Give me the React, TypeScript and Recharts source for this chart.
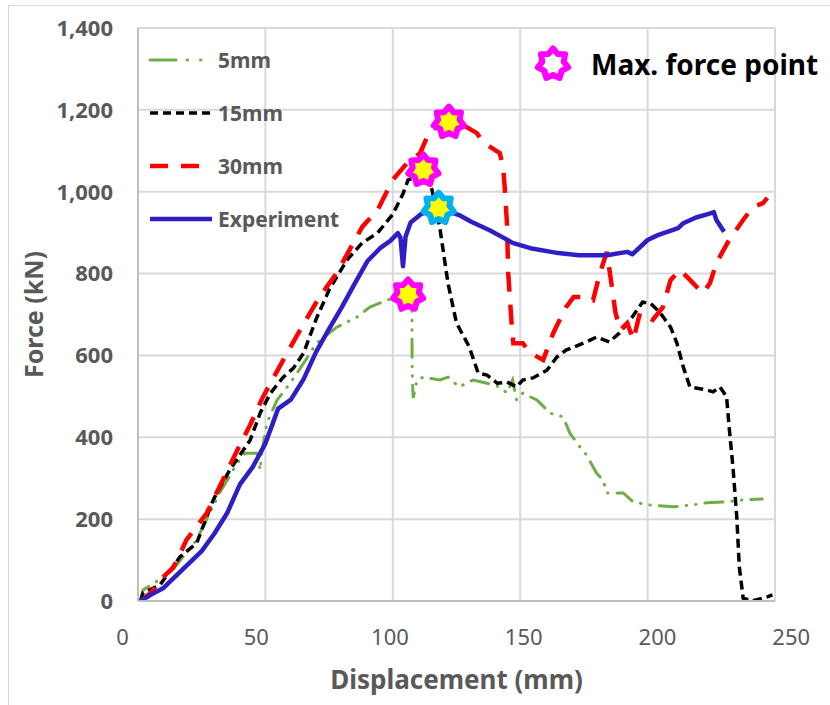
import { ComposedChart, Line, Scatter, XAxis, YAxis, CartesianGrid } from "recharts";

// Force-displacement curves (mm, kN)
const mesh5mm = [
  { x: 1, y: 0 }, { x: 2, y: 27 }, { x: 12.5, y: 68 }, { x: 23, y: 149 }, { x: 32, y: 264 },
  { x: 39, y: 337 }, { x: 42, y: 361 }, { x: 46.7, y: 361 }, { x: 48, y: 320 }, { x: 48.5, y: 360 },
  { x: 50.6, y: 435 }, { x: 54.6, y: 491 }, { x: 59.7, y: 532 }, { x: 65, y: 581 }, { x: 70, y: 630 },
  { x: 78, y: 669 }, { x: 86, y: 694 }, { x: 91, y: 718 }, { x: 97.7, y: 735 }, { x: 102, y: 742 },
  { x: 106, y: 748 }, { x: 107.5, y: 720 }, { x: 107.6, y: 557 }, { x: 108, y: 496 }, { x: 109.5, y: 540 },
  { x: 112, y: 547 }, { x: 118.5, y: 540 }, { x: 121.7, y: 547 }, { x: 126, y: 523 }, { x: 131.5, y: 540 },
  { x: 137, y: 532 }, { x: 142, y: 523 }, { x: 144.8, y: 508 }, { x: 147, y: 540 }, { x: 148.6, y: 491 },
  { x: 151, y: 508 }, { x: 156.6, y: 491 }, { x: 161.7, y: 459 }, { x: 166.8, y: 450 }, { x: 169.5, y: 410 },
  { x: 173.5, y: 376 }, { x: 176, y: 357 }, { x: 180, y: 312 }, { x: 182.5, y: 296 }, { x: 184, y: 264 },
  { x: 190.4, y: 264 }, { x: 194.4, y: 242 }, { x: 200, y: 235 }, { x: 210, y: 230 }, { x: 218, y: 235 },
  { x: 223, y: 240 }, { x: 231, y: 242 }, { x: 237.5, y: 247 }, { x: 245, y: 249 },
];

const mesh15mm = [
  { x: 1, y: 0 }, { x: 2, y: 20 }, { x: 8.6, y: 39 }, { x: 16.5, y: 108 }, { x: 23, y: 141 },
  { x: 29.5, y: 247 }, { x: 36, y: 320 }, { x: 44, y: 393 }, { x: 48, y: 460 }, { x: 52, y: 508 },
  { x: 57, y: 547 }, { x: 61, y: 569 }, { x: 65, y: 606 }, { x: 70, y: 690 }, { x: 75, y: 760 },
  { x: 82, y: 833 }, { x: 88, y: 875 }, { x: 94, y: 899 }, { x: 100, y: 945 }, { x: 104, y: 995 },
  { x: 106, y: 1029 }, { x: 108, y: 1033 }, { x: 112, y: 1050 }, { x: 115.4, y: 1004 }, { x: 118.5, y: 910 },
  { x: 121.7, y: 775 }, { x: 125, y: 679 }, { x: 130, y: 621 }, { x: 133.5, y: 557 }, { x: 137, y: 552 },
  { x: 141, y: 532 }, { x: 144.8, y: 535 }, { x: 148.6, y: 523 }, { x: 151, y: 540 }, { x: 155, y: 545 },
  { x: 160.5, y: 564 }, { x: 164.4, y: 596 }, { x: 168, y: 613 }, { x: 176, y: 633 }, { x: 180, y: 645 },
  { x: 185, y: 633 }, { x: 189, y: 655 }, { x: 194, y: 694 }, { x: 198, y: 730 }, { x: 201, y: 728 },
  { x: 205, y: 704 }, { x: 209, y: 669 }, { x: 211.5, y: 630 }, { x: 214, y: 572 }, { x: 216.6, y: 523 },
  { x: 223, y: 516 }, { x: 225.7, y: 511 }, { x: 228.4, y: 523 }, { x: 231, y: 499 }, { x: 232, y: 425 },
  { x: 233.5, y: 327 }, { x: 235, y: 205 }, { x: 236, y: 83 }, { x: 237.5, y: 7 }, { x: 241, y: 0 },
  { x: 247, y: 10 }, { x: 249, y: 15 },
];

const mesh30mm = [
  { x: 1, y: 0 }, { x: 5, y: 20 }, { x: 10, y: 59 }, { x: 14, y: 83 }, { x: 19, y: 149 },
  { x: 27, y: 215 }, { x: 32, y: 279 }, { x: 39, y: 369 }, { x: 44, y: 430 }, { x: 49, y: 498 },
  { x: 58.5, y: 606 }, { x: 63.6, y: 662 }, { x: 70, y: 730 }, { x: 74, y: 767 }, { x: 78, y: 801 },
  { x: 83, y: 858 }, { x: 88, y: 914 }, { x: 94, y: 955 }, { x: 100, y: 1029 }, { x: 105.6, y: 1070 },
  { x: 110.7, y: 1094 }, { x: 114.6, y: 1150 }, { x: 122, y: 1172 }, { x: 127, y: 1165 }, { x: 133, y: 1143 },
  { x: 135.4, y: 1121 }, { x: 142, y: 1094 }, { x: 143.3, y: 1060 }, { x: 144, y: 1004 }, { x: 144.8, y: 923 },
  { x: 145.3, y: 801 }, { x: 146.8, y: 662 }, { x: 147.3, y: 630 }, { x: 151, y: 630 }, { x: 154, y: 606 },
  { x: 159, y: 589 }, { x: 163, y: 655 }, { x: 168, y: 718 }, { x: 171, y: 743 }, { x: 175, y: 743 },
  { x: 178.6, y: 735 }, { x: 181.3, y: 801 }, { x: 184, y: 853 }, { x: 186, y: 767 }, { x: 187.4, y: 704 },
  { x: 189.3, y: 662 }, { x: 192, y: 679 }, { x: 194.4, y: 638 }, { x: 197, y: 704 }, { x: 202, y: 687 },
  { x: 206, y: 718 }, { x: 209, y: 784 }, { x: 212.7, y: 809 }, { x: 216.7, y: 784 }, { x: 221.7, y: 752 },
  { x: 224.5, y: 777 }, { x: 227, y: 826 }, { x: 232, y: 882 }, { x: 237.5, y: 931 }, { x: 241.4, y: 963 },
  { x: 245.3, y: 972 }, { x: 247, y: 985 },
];

const experiment = [
  { x: 1, y: 0 }, { x: 5, y: 15 }, { x: 10, y: 32 }, { x: 15, y: 62 }, { x: 20, y: 92 },
  { x: 25, y: 122 }, { x: 30, y: 165 }, { x: 35, y: 215 }, { x: 40, y: 285 }, { x: 45, y: 327 },
  { x: 50, y: 385 }, { x: 55, y: 470 }, { x: 60, y: 492 }, { x: 65, y: 542 }, { x: 70, y: 610 },
  { x: 75, y: 665 }, { x: 80, y: 718 }, { x: 85, y: 775 }, { x: 90, y: 830 }, { x: 95, y: 862 },
  { x: 99, y: 880 }, { x: 102, y: 899 }, { x: 103, y: 888 }, { x: 104, y: 818 }, { x: 105, y: 890 },
  { x: 107, y: 925 }, { x: 111, y: 945 }, { x: 118, y: 960 }, { x: 126, y: 943 }, { x: 131, y: 926 },
  { x: 138, y: 906 }, { x: 143, y: 889 }, { x: 147, y: 875 }, { x: 154, y: 862 }, { x: 165, y: 850 },
  { x: 173, y: 845 }, { x: 184, y: 845 }, { x: 192, y: 853 }, { x: 194, y: 847 }, { x: 200, y: 882 },
  { x: 204, y: 894 }, { x: 212, y: 911 }, { x: 214, y: 923 }, { x: 219, y: 937 }, { x: 224, y: 946 },
  { x: 226, y: 950 }, { x: 227, y: 931 }, { x: 230, y: 902 },
];

// max force points
const simMaxPoints = [
  { x: 122, y: 1170 },
  { x: 112, y: 1053 },
  { x: 106, y: 748 },
];
const expMaxPoints = [{ x: 118, y: 960 }];

const xTicks = [0, 50, 100, 150, 200, 250];
const yTicks = [0, 200, 400, 600, 800, 1000, 1200, 1400];

const legendNames = ["5mm", "15mm", "30mm", "Experiment"];
const legendStyles = [
  { stroke: "#70ad47", width: 3, dash: "26 11 0.5 13 0.5 12", cap: "round" as const },
  { stroke: "#000000", width: 3.5, dash: "8 5", cap: "butt" as const },
  { stroke: "#ff0000", width: 4.5, dash: "18 13", cap: "butt" as const },
  { stroke: "#2d1fc5", width: 4.5, dash: undefined, cap: "butt" as const },
];

const FONT = '"Noto Sans", sans-serif';
const GREY = "#595959";

const starPoints = (cx: number, cy: number, outer: number, inner: number, n = 7) => {
  const pts: string[] = [];
  for (let i = 0; i < n * 2; i++) {
    const r = i % 2 === 0 ? outer : inner;
    const a = -Math.PI / 2 + (i * Math.PI) / n;
    pts.push(`${(cx + r * Math.cos(a)).toFixed(1)},${(cy + r * Math.sin(a)).toFixed(1)}`);
  }
  return pts.join(" ");
};

const Star = ({ cx, cy, ring, fill }: { cx: number; cy: number; ring: string; fill: string }) => (
  <polygon
    points={starPoints(cx, cy, 15.5, 11)}
    fill={fill}
    stroke={ring}
    strokeWidth={6}
    strokeLinejoin="round"
  />
);

// tick labels in the original drift slightly outward from their gridlines
const XTick = ({ x, y, payload }: any) => (
  <text
    x={x + (payload.value - 122) * 0.127}
    y={y + 42}
    textAnchor="middle"
    fill={GREY}
    fontSize={22}
    fontFamily={FONT}
  >
    {payload.value}
  </text>
);

const XTitle = ({ viewBox }: any) => (
  <text
    x={viewBox.x + viewBox.width / 2}
    y={viewBox.y + 88}
    textAnchor="middle"
    fill={GREY}
    fontSize={26}
    fontWeight={700}
    fontFamily={FONT}
  >
    Displacement (mm)
  </text>
);

const YTitle = ({ viewBox }: any) => (
  <text
    transform={`translate(${viewBox.x + 33},${viewBox.y + viewBox.height / 2}) rotate(-90)`}
    textAnchor="middle"
    dominantBaseline="central"
    fill={GREY}
    fontSize={25}
    fontWeight={700}
    fontFamily={FONT}
  >
    Force (kN)
  </text>
);

export default function App() {
  return (
    <div style={{ position: "absolute", left: 0, top: 0, width: 830, height: 705, background: "#fff", overflow: "hidden", fontFamily: FONT }}>
      <div style={{ position: "absolute", left: 8, top: 5, width: 830, height: 705, border: "1px solid #d9d9d9" }} />
      <ComposedChart width={830} height={705} margin={{ top: 28, right: 55, bottom: 0, left: 0 }} style={{ position: "absolute", left: 0, top: 0 }}>
        <CartesianGrid stroke="#d9d9d9" strokeWidth={2} />
        <XAxis
          type="number"
          dataKey="x"
          domain={[0, 250]}
          ticks={xTicks}
          height={104}
          axisLine={{ stroke: "#bfbfbf", strokeWidth: 2 }}
          tickLine={false}
          tickSize={0}
          tick={<XTick />}
          label={{ content: XTitle }}
        />
        <YAxis
          type="number"
          domain={[0, 1400]}
          ticks={yTicks}
          width={138}
          allowDataOverflow
          axisLine={{ stroke: "#bfbfbf", strokeWidth: 2 }}
          tickLine={false}
          tickSize={0}
          tickMargin={25}
          tickFormatter={(v: number) => v.toLocaleString("en-US")}
          tick={{ fill: GREY, fontSize: 22, fontWeight: 700, fontFamily: FONT }}
          label={{ content: YTitle }}
        />
        <Line data={mesh5mm} dataKey="y" name="5mm" type="linear" stroke="#70ad47" strokeWidth={3}
          strokeDasharray="18 9 0.5 9 0.5 9" strokeLinecap="round" dot={false} isAnimationActive={false} />
        <Line data={mesh15mm} dataKey="y" name="15mm" type="linear" stroke="#000000" strokeWidth={3.5}
          strokeDasharray="9 5" dot={false} isAnimationActive={false} />
        <Line data={mesh30mm} dataKey="y" name="30mm" type="linear" stroke="#ff0000" strokeWidth={4.5}
          strokeDasharray="20 13" dot={false} isAnimationActive={false} />
        <Line data={experiment} dataKey="y" name="Experiment" type="linear" stroke="#2d1fc5" strokeWidth={4.5}
          strokeLinejoin="round" dot={false} isAnimationActive={false} />
        <Scatter data={simMaxPoints} dataKey="y" isAnimationActive={false}
          shape={(p: any) => <Star cx={p.cx} cy={p.cy} ring="#ff00ff" fill="#ffff00" />} />
        <Scatter data={expMaxPoints} dataKey="y" isAnimationActive={false}
          shape={(p: any) => <Star cx={p.cx} cy={p.cy} ring="#00b0f0" fill="#ffff00" />} />
      </ComposedChart>

      {/* series legend, top-left inside the plot */}
      <div style={{ position: "absolute", left: 148, top: 33 }}>
        {legendNames.map((name, i) => (
          <div key={name} style={{ display: "flex", alignItems: "center", height: 53 }}>
            <svg width={66} height={10} style={{ marginRight: 4 }}>
              <line x1={2} y1={5} x2={64} y2={5} stroke={legendStyles[i].stroke} strokeWidth={legendStyles[i].width}
                strokeDasharray={legendStyles[i].dash} strokeLinecap={legendStyles[i].cap} />
            </svg>
            <span style={{ color: GREY, fontSize: 21, fontWeight: 700 }}>{name}</span>
          </div>
        ))}
      </div>

      {/* max force marker legend */}
      <div style={{ position: "absolute", left: 530, top: 40, display: "flex", alignItems: "center" }}>
        <svg width={48} height={48}>
          <Star cx={23} cy={24} ring="#ff00ff" fill="#ffffff" />
        </svg>
        <span style={{ marginLeft: 13, color: "#000", fontSize: 28, fontWeight: 700 }}>Max. force point</span>
      </div>
    </div>
  );
}
